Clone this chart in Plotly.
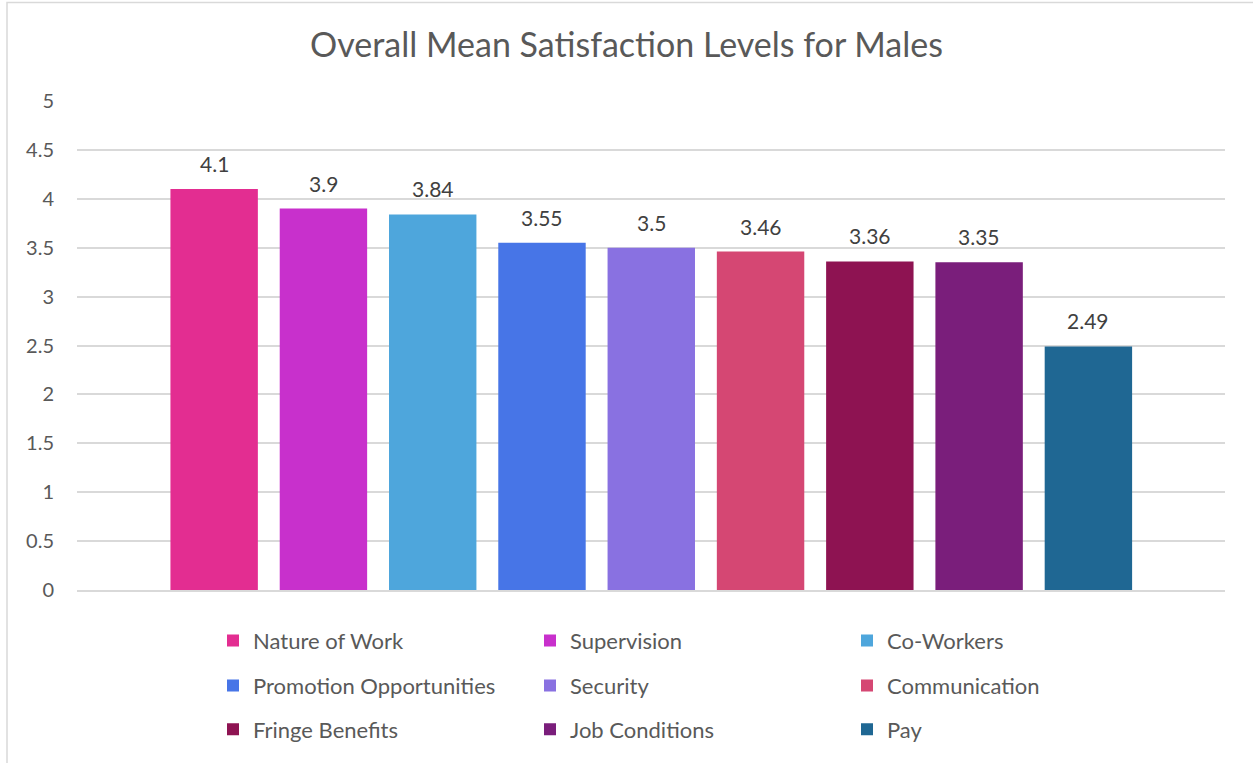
import plotly.graph_objects as go

categories = ["Nature of Work", "Supervision", "Co-Workers", "Promotion Opportunities",
              "Security", "Communication", "Fringe Benefits", "Job Conditions", "Pay"]
values = [4.1, 3.9, 3.84, 3.55, 3.5, 3.46, 3.36, 3.35, 2.49]
colors = ["#E32D91", "#C830CC", "#4EA6DC", "#4775E7", "#8971E1",
          "#D54773", "#8E1352", "#7A1E7B", "#1F6793"]
y_ticks = [0, 0.5, 1, 1.5, 2, 2.5, 3, 3.5, 4, 4.5, 5]
title_text = "Overall Mean Satisfaction Levels for Males"

FONT = "Lato, Carlito, Calibri, sans-serif"
legend_names = ["legend", "legend2", "legend3"]

fig = go.Figure()
for i, (cat, val, col) in enumerate(zip(categories, values, colors)):
    fig.add_trace(go.Bar(
        x=[cat], y=[val], name=cat, marker=dict(color=col, line=dict(width=0)),
        opacity=1, legend=legend_names[i // 3], showlegend=True,
    ))
    fig.add_annotation(
        x=cat, y=val, text=f"{val:g}", showarrow=False, yanchor="bottom",
        yshift=11, font=dict(family=FONT, size=21, color="#404040"),
    )

W, H = 1253, 763
ml, mr, mt, mb = 77, 28, 101, 171
pw, ph = W - ml - mr, H - mt - mb

def px_x(p):
    return (p - ml) / pw

def px_y(p):
    return 1 - (p - mt) / ph

legend_common = dict(
    orientation="h", entrywidth=272, entrywidthmode="pixels",
    font=dict(family=FONT, size=22, color="#595959"),
    bgcolor="rgba(0,0,0,0)", xanchor="left", yanchor="middle",
    itemclick=False, itemdoubleclick=False,
)
row_centers = [643, 688, 732]

fig.update_layout(
    width=W, height=H,
    margin=dict(l=ml, r=mr, t=mt, b=mb),
    paper_bgcolor="white", plot_bgcolor="white",
    barmode="overlay", bargap=0.2,
    font=dict(family=FONT, color="#595959"),
    title=dict(text=title_text, x=0.5, xanchor="center", y=1 - 45 / H, yanchor="middle",
               font=dict(family=FONT, size=34, color="#595959")),
    xaxis=dict(type="category", categoryorder="array", categoryarray=categories,
               range=[-1.255, 9.25], showticklabels=False, ticks="",
               showline=True, linecolor="#D9D9D9", linewidth=1.5, showgrid=False,
               zeroline=False, fixedrange=True),
    yaxis=dict(range=[0, 5], tickvals=y_ticks, ticktext=[f"{t:g}" for t in y_ticks],
               showgrid=True, gridcolor="#D9D9D9", gridwidth=1.5, zeroline=False,
               showline=False, ticks="", ticklabelstandoff=22,
               tickfont=dict(family=FONT, size=20, color="#595959"), fixedrange=True),
    legend=dict(x=px_x(213), y=px_y(row_centers[0]), **legend_common),
    legend2=dict(x=px_x(213), y=px_y(row_centers[1]), **legend_common),
    legend3=dict(x=px_x(213), y=px_y(row_centers[2]), **legend_common),
    showlegend=True,
)

fig.add_shape(type="rect", xref="paper", yref="paper",
              x0=px_x(7), x1=px_x(W + 20), y0=px_y(H + 20), y1=px_y(2),
              line=dict(color="#D9D9D9", width=1.5), fillcolor="rgba(0,0,0,0)", layer="below")

fig.write_html("out.html", config={"displayModeBar": False},
               post_script="document.body.style.margin='0';")
